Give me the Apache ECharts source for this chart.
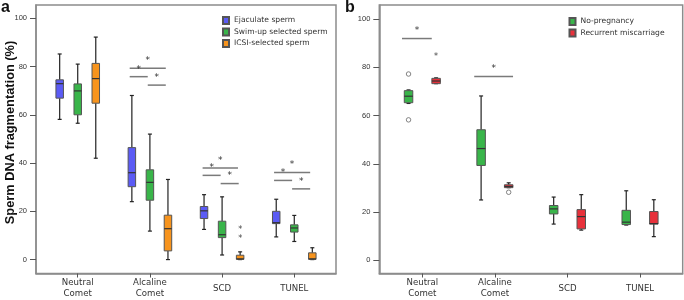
<!DOCTYPE html>
<html>
<head>
<meta charset="utf-8">
<script src="https://cdn.jsdelivr.net/npm/echarts@6/dist/echarts.min.js"></script>
<style>
html, body { margin: 0; padding: 0; background: #fff; }
#chart { width: 684px; height: 300px; }
</style>
</head>
<body>
<div id="chart"></div>
<script>
var categories = ['Neutral\nComet', 'Alcaline\nComet', 'SCD', 'TUNEL'];
var catTicks = [0, 1, 2, 3];
var yTicks = [0, 20, 40, 60, 80, 100];

// panel a, per category: [low whisker, Q1, median, Q3, high whisker]
var ejaculate = [[58.1, 66.9, 72.9, 74.5, 85.2], [24, 30.2, 36, 46.4, 68], [12.5, 17, 20.2, 22, 26.9], [9.4, 14.9, 15.3, 20, 25]];
var swimUp = [[56.5, 60, 69.9, 72.8, 81], [11.8, 24.6, 32, 37.2, 52], [1.9, 9.1, 10.3, 15.9, 26], [7.5, 11.4, 13.1, 14.4, 18.3]];
var icsi = [[42, 64.8, 75, 81.3, 92.2], [0, 3.6, 12.8, 18.4, 33.2], [0, 0.1, 0.3, 1.8, 3.2], [0, 0.1, 0.3, 2.8, 4.9]];
// extreme values (*): [category, group, value]
var extremesA = [[2, 2, 13.7], [2, 2, 10]];
// significance brackets: [category, from, to, y]
var bracketsA = [[1, -0.28, 0.22, 79.3], [1, -0.28, -0.03, 75.8], [1, -0.03, 0.22, 72.3],
                 [2, -0.27, 0.22, 38], [2, -0.27, -0.02, 34.9], [2, -0.02, 0.23, 31.5],
                 [3, -0.28, 0.22, 36.1], [3, -0.28, -0.03, 32.8], [3, -0.03, 0.22, 29.3]];

// panel b
var noPregnancy = [[65, 65.3, 68, 70.3, 70.6], [25, 39.3, 46.3, 54.1, 68.1], [15, 19.2, 21.3, 22.7, 26.2], [14.6, 14.8, 15.8, 20.7, 28.8]];
var recurrent = [[73.2, 73.2, 74.3, 75.4, 75.6], [30.1, 30.1, 30.6, 31.3, 32.1], [12.5, 13, 18.1, 21, 27.2], [9.8, 15, 15.2, 20.2, 25.1]];
var outliersB = [[0, 0, 77.2], [0, 0, 58.2], [1, 1, 28.2]];
var extremesB = [[0, 1, 85.4]];
var bracketsB = [[0, -0.28, 0.13, 91.9], [1, -0.285, 0.25, 76.2]];

var offsetsA = [-0.25, 0, 0.25];
var offsetsB = [-0.19, 0.19];
var colorsA = ['#5b5bf5', '#39b54a', '#f7941d'];
var colorsB = ['#39b54a', '#e8313b'];
var namesA = ['Ejaculate sperm', 'Swim-up selected sperm', 'ICSI-selected sperm'];
var namesB = ['No-pregnancy', 'Recurrent miscarriage'];

var frameColor = '#8c8c8c';
var font = 'DejaVu Sans';

function boxRender(offset, boxW) {
    return function (params, api) {
        var c = api.value(0);
        var x = api.coord([c + offset, 0])[0];
        var py = function (k) { return api.coord([c, api.value(k)])[1]; };
        var lo = py(1), q1 = py(2), md = py(3), q3 = py(4), hi = py(5);
        var cap = 2;
        var w = { stroke: '#222', lineWidth: 1.2 };
        return {
            type: 'group',
            children: [
                { type: 'line', shape: { x1: x, y1: hi, x2: x, y2: q3 }, style: w },
                { type: 'line', shape: { x1: x, y1: q1, x2: x, y2: lo }, style: w },
                { type: 'line', shape: { x1: x - cap, y1: hi, x2: x + cap, y2: hi }, style: w },
                { type: 'line', shape: { x1: x - cap, y1: lo, x2: x + cap, y2: lo }, style: w },
                { type: 'rect', shape: { x: x - boxW / 2, y: q3, width: boxW, height: Math.max(q1 - q3, 1.5) },
                  style: { fill: api.visual('color'), stroke: '#555', lineWidth: 1 } },
                { type: 'line', shape: { x1: x - boxW / 2, y1: md, x2: x + boxW / 2, y2: md }, style: { stroke: '#333', lineWidth: 1.2 } }
            ]
        };
    };
}

function boxSeries(name, idx, stats, offset, color, boxW) {
    return {
        name: name,
        type: 'custom',
        xAxisIndex: idx,
        yAxisIndex: idx,
        itemStyle: { color: color, borderColor: '#555', borderWidth: 0.8 },
        data: stats.map(function (s, i) { return [i].concat(s); }),
        encode: { x: 0, y: [1, 2, 3, 4, 5] },
        renderItem: boxRender(offset, boxW),
        silent: true
    };
}

function bracketSeries(idx, list) {
    return {
        type: 'custom',
        xAxisIndex: idx,
        yAxisIndex: idx,
        data: list,
        encode: { x: [1, 2], y: 3 },
        silent: true,
        renderItem: function (params, api) {
            var c = api.value(0);
            var p0 = api.coord([c + api.value(1), api.value(3)]);
            var p1 = api.coord([c + api.value(2), api.value(3)]);
            return {
                type: 'group',
                children: [
                    { type: 'line', shape: { x1: p0[0], y1: p0[1], x2: p1[0], y2: p1[1] }, style: { stroke: '#7a7a7a', lineWidth: 1.5 } },
                    { type: 'text', style: { text: '*', x: (p0[0] + p1[0]) / 2, y: p0[1] - 3, align: 'center', verticalAlign: 'bottom',
                      fill: '#333', fontSize: 9, fontFamily: font } }
                ]
            };
        }
    };
}

function starSeries(idx, list, offsets) {
    return {
        type: 'custom',
        xAxisIndex: idx,
        yAxisIndex: idx,
        data: list.map(function (o) { return [o[0] + offsets[o[1]], o[2]]; }),
        silent: true,
        renderItem: function (params, api) {
            var p = api.coord([api.value(0), api.value(1)]);
            return { type: 'text', style: { text: '*', x: p[0], y: p[1] + 3, align: 'center', verticalAlign: 'middle',
                     fill: '#444', fontSize: 8, fontFamily: font } };
        }
    };
}

function xAxis(idx, min, max) {
    return {
        type: 'value', gridIndex: idx, min: min, max: max,
        splitLine: { show: false },
        axisLine: { show: true, onZero: false, lineStyle: { color: frameColor, width: 1.5 } },
        axisTick: { show: true, customValues: catTicks, length: 4, lineStyle: { color: '#555' } },
        axisLabel: { customValues: catTicks, formatter: function (v) { return categories[Math.round(v)]; },
                     fontSize: 8.6, fontFamily: font, color: '#333', lineHeight: 11.5, verticalAlign: 'middle', margin: 15 }
    };
}

function yAxis(idx, min, max) {
    return {
        type: 'value', gridIndex: idx, min: min, max: max,
        splitLine: { show: false },
        axisLine: { show: true, onZero: false, lineStyle: { color: frameColor, width: 1.5 } },
        axisTick: { show: true, customValues: yTicks, length: 6, lineStyle: { color: '#555' } },
        axisLabel: { customValues: yTicks, fontSize: 7.5, fontFamily: 'Liberation Sans', color: '#333', margin: 9 }
    };
}

function legend(names, left, top) {
    return {
        data: names, orient: 'vertical', left: left, top: top, padding: 0,
        itemWidth: 6, itemHeight: 7, itemGap: 2.5, icon: 'rect', selectedMode: false,
        textStyle: { fontSize: 7.6, fontFamily: font, color: '#333', lineHeight: 7.5 }
    };
}

var series = [];
namesA.forEach(function (n, i) {
    series.push(boxSeries(n, 0, [ejaculate, swimUp, icsi][i], offsetsA[i], colorsA[i], 7.5));
});
namesB.forEach(function (n, i) {
    series.push(boxSeries(n, 1, [noPregnancy, recurrent][i], offsetsB[i], colorsB[i], 8.5));
});
series.push(bracketSeries(0, bracketsA));
series.push(bracketSeries(1, bracketsB));
series.push(starSeries(0, extremesA, offsetsA));
series.push(starSeries(1, extremesB, offsetsB));
series.push({
    type: 'scatter', xAxisIndex: 1, yAxisIndex: 1, symbol: 'circle', symbolSize: 4.5, silent: true,
    itemStyle: { color: '#fff', borderColor: '#666', borderWidth: 1 },
    data: outliersB.map(function (o) { return [o[0] + offsetsB[o[1]], o[2]]; })
});

var myChart = echarts.init(document.getElementById('chart'), null, { renderer: 'canvas' });
myChart.setOption({
    animation: false,
    grid: [
        { left: 36, top: 5, width: 300, height: 270, show: true, borderColor: frameColor, borderWidth: 1.5 },
        { left: 379.3, top: 5, width: 303.4, height: 270, show: true, borderColor: frameColor, borderWidth: 1.5 }
    ],
    xAxis: [xAxis(0, -0.578, 3.578), xAxis(1, -0.593, 3.588)],
    yAxis: [yAxis(0, -5.77, 105.5), yAxis(1, -5.48, 105.8)],
    legend: [legend(namesA, 222, 16), legend(namesB, 568.5, 17)],
    graphic: [
        { type: 'text', left: 1, top: 0, style: { text: 'a', fontSize: 16, fontWeight: 'bold', fontFamily: 'Liberation Sans', fill: '#111' } },
        { type: 'text', left: 345, top: 0, style: { text: 'b', fontSize: 16, fontWeight: 'bold', fontFamily: 'Liberation Sans', fill: '#111' } },
        { type: 'text', x: 10.5, y: 132.5, rotation: Math.PI / 2,
          style: { text: 'Sperm DNA fragmentation (%)', align: 'center', verticalAlign: 'middle',
                   fontSize: 12.8, fontWeight: 'bold', fontFamily: 'Liberation Sans', fill: '#111' } }
    ],
    series: series
});
</script>
</body>
</html>
